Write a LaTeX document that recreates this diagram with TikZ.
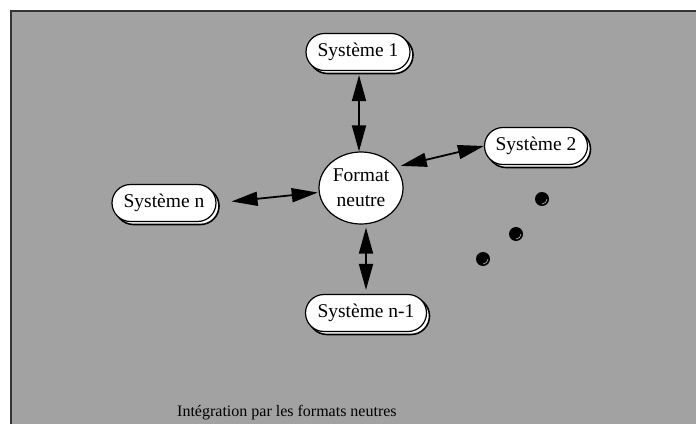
\documentclass[tikz,border=0pt]{standalone}
\usepackage{fontspec}
\setmainfont{Liberation Serif}
\usetikzlibrary{shapes.misc,shapes.geometric,shadows,arrows.meta}
\definecolor{panelgray}{HTML}{A2A2A2}
\definecolor{frameline}{HTML}{333333}
\begin{document}
\begin{tikzpicture}[x=1pt,y=-1pt,
  sysbox/.style={rounded rectangle, draw=black, line width=1.2pt, fill=white,
    minimum height=37pt, inner sep=0pt, font=\fontsize{19.5}{22}\selectfont,
    copy shadow={shadow xshift=3pt, shadow yshift=-3pt, draw=black,
      line width=1.6pt, fill=white}},
  hub/.style={ellipse, draw=black, line width=1.2pt, fill=white,
    minimum width=84pt, minimum height=72pt, inner sep=0pt, align=center,
    font=\fontsize{19.5}{25}\selectfont},
  link/.style={line width=1.8pt,
    {Triangle[length=26pt,width=14pt]}-{Triangle[length=26pt,width=14pt]}},
  dotmark/.style={circle, fill=black, minimum size=14pt, inner sep=0pt},
  sheen/.style={draw=gray!55, line width=0.6pt},
  caption/.style={anchor=base west, inner sep=0pt, font=\fontsize{16}{18}\selectfont}
]
\useasboundingbox (0,0) rectangle (696,423);
% panel
\fill[panelgray] (11,11) rectangle (700,427);
\draw[frameline, line width=1.5pt] (11,427) -- (11,11) -- (700,11);

% systems and the neutral format
\node[hub] (f) at (361,188) {Format\\neutre};
\node[sysbox, minimum width=104pt] (s1) at (358,52) {Système 1};
\node[sysbox, minimum width=103pt] (s2) at (536,146) {Système 2};
\node[sysbox, minimum width=104pt] (sn) at (164,203) {Système n};
\node[sysbox, minimum width=121pt] (sn1) at (366,313) {Système n-1};

% exchanges
\draw[link, shorten >=4pt] (f.north -| s1.south) ++(1,0) coordinate (a1) -- (a1 |- s1.south);
\draw[link, shorten <=5pt] (f.31) -- (s2.west);
\draw[link, shorten <=1pt, shorten >=15pt] (f.186) -- (sn.east);
\draw[link, shorten <=3pt, shorten >=4pt] (sn1.north |- f.south) -- (sn1.north);

% ellipsis dots
\foreach \p [count=\i] in {(542,199),(516,234),(483,259)} {
  \node[dotmark] (d\i) at \p {};
  \draw[sheen] ([shift={(5,0)}]d\i.center) arc[start angle=0, end angle=90, radius=5];
}

% caption
\node[caption] (cap) at (177,416) {Intégration par les formats neutres};
\end{tikzpicture}
\end{document}
